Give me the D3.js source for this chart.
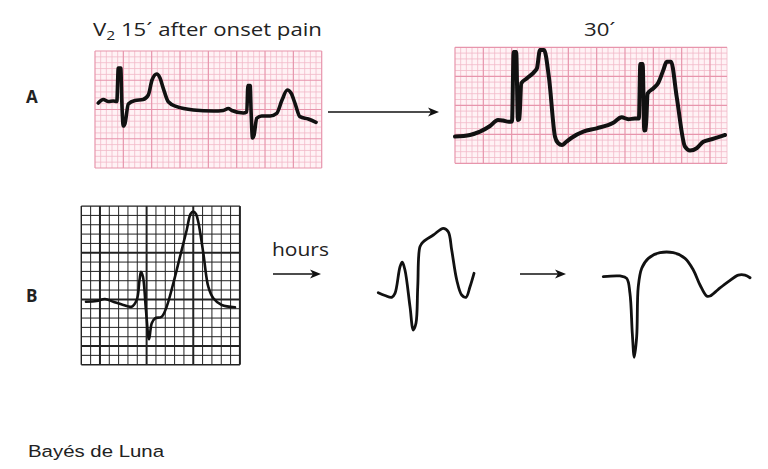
<!DOCTYPE html>
<html><head><meta charset="utf-8">
<script src="https://cdnjs.cloudflare.com/ajax/libs/d3/7.8.5/d3.min.js"></script>
<style>body{margin:0;background:#fff;} svg{display:block;}</style>
</head><body>
<svg id="chart" width="768" height="469"></svg>
<script>
// ---- data (small squares / mm units; x from panel left, y up from panel bottom) ----
const titleLeft = "V";
const titleSub = "2";
const titleRest = " 15´ after onset pain";
const titleRight = "30´";
const rowLabels = ["A", "B"];
const arrowLabel = "hours";
const sourceText = "Bayés de Luna";

const traceA1 = [[0.58,11.1],[1.46,11.7],[2.35,11.37],[3.23,11.45],[3.85,11.37],[4.11,17.09],[4.55,17.09],[4.73,11.4],[4.99,7.18],[5.29,7.6],[5.88,10.94],[7.06,11.54],[8.47,11.71],[9.41,12.48],[10.06,15.04],[10.89,16.07],[11.47,15.38],[12.05,13.62],[12.93,11.33],[14.42,10.48],[17.35,9.91],[20.88,9.74],[22.64,9.83],[23.52,10.17],[24.17,9.83],[26.17,9.4],[26.78,9.57],[26.98,14.1],[27.38,14.1],[27.55,9.4],[27.79,5.13],[28.06,5.6],[28.53,8.5],[29.41,8.89],[30.88,8.89],[32.06,9.35],[33.0,11.62],[33.93,13.33],[34.59,12.82],[35.29,11.06],[36.17,8.77],[37.64,8.38],[39.0,7.81]];

const traceA2 = [[0,4.6],[2.65,4.88],[4.41,5.45],[6.18,6.43],[7.59,7.47],[8.47,7.38],[9.53,7.17],[10.06,7.21],[10.35,19.19],[10.8,19.19],[11.1,7.47],[11.35,7.64],[11.7,13.79],[12.71,14.66],[14.12,15.91],[14.47,16.43],[15.0,19.53],[15.71,19.53],[16.59,14.71],[17.65,4.59],[18.18,3.5],[18.88,3.16],[19.59,3.67],[20.59,4.41],[22.64,5.45],[25.0,6.03],[27.94,7.0],[29.41,7.93],[30.58,7.59],[31.76,7.72],[32.45,7.72],[32.7,17.12],[33.12,17.12],[33.4,5.66],[33.65,5.74],[34.0,12.03],[35.0,12.93],[35.88,13.9],[36.77,16.09],[37.36,17.52],[38.12,17.52],[39.12,11.48],[40.59,2.86],[41.47,2.21],[42.65,2.59],[43.82,3.72],[45.29,4.14],[46.76,4.59],[47.65,4.88]];

const traceB1 = [[0.5,6.75],[1.65,6.83],[2.54,7.04],[3.43,6.75],[4.5,6.4],[5.4,6.22],[5.94,6.93],[6.24,9.08],[6.4,9.97],[6.61,9.43],[6.93,5.86],[7.26,2.72],[7.55,4.44],[7.9,4.97],[8.62,5.14],[9.15,6.22],[9.86,8.72],[10.58,11.58],[11.3,14.44],[11.71,16.15],[12.0,16.42],[12.29,16.15],[12.54,15.29],[13.08,11.94],[13.61,8.36],[14.15,7.12],[15.05,6.4],[16.47,6.15]];

const traceB2 = [[0.03,7.72],[0.75,7.42],[1.47,7.22],[1.82,7.65],[2.36,10.5],[2.6,10.98],[2.89,10.15],[3.43,6.22],[3.78,3.72],[4.07,4.44],[4.26,8.36],[4.5,12.65],[4.86,13.18],[5.93,13.9],[7.0,14.62],[7.53,14.26],[7.9,12.29],[8.44,9.08],[8.97,7.47],[9.43,7.22],[9.86,8.36],[10.29,9.8]];

const traceB3 = [[0.03,9.43],[1.82,9.51],[2.54,9.26],[2.89,7.65],[3.14,3.37],[3.35,0.79],[3.61,3.0],[3.78,8.36],[4.15,10.33],[4.86,11.4],[6.11,12.0],[7.53,12.0],[8.79,11.4],[9.68,10.15],[10.4,8.54],[11.11,7.36],[11.47,7.36],[12.36,8.08],[13.43,8.9],[14.5,9.61],[15.22,9.61],[15.76,9.32]];

// ---- layout ----
const svg = d3.select("#chart");
const fontHuman = "'Open Sans','Noto Sans',sans-serif";
const stretch = 1.2;

function pinkGrid(g, x, y, cols, rows) {
  g.append("rect").attr("x", x(0)).attr("y", y(rows)).attr("width", x(cols)-x(0)).attr("height", y(0)-y(rows)).attr("fill", "#fff2f5");
  const minor = g.append("g").attr("stroke", "#f1b9c8").attr("stroke-width", 0.8);
  const major = g.append("g").attr("stroke", "#e795ac").attr("stroke-width", 1.2);
  d3.range(0, cols + 1).forEach(i => {
    (i % 5 === 0 ? major : minor).append("line").attr("x1", x(i)).attr("x2", x(i)).attr("y1", y(0)).attr("y2", y(rows));
  });
  d3.range(0, rows + 1).forEach(j => {
    (j % 5 === 0 ? major : minor).append("line").attr("y1", y(j)).attr("y2", y(j)).attr("x1", x(0)).attr("x2", x(cols));
  });
}

// Panel A1
const xA1 = d3.scaleLinear().domain([0, 40]).range([95, 321.7]);
const yA1 = d3.scaleLinear().domain([0, 20]).range([168, 51]);
const gA1 = svg.append("g");
pinkGrid(gA1, xA1, yA1, 40, 20);
gA1.append("path").datum(traceA1)
  .attr("d", d3.line().x(d => xA1(d[0])).y(d => yA1(d[1])).curve(d3.curveMonotoneX))
  .attr("fill", "none").attr("stroke", "#111").attr("stroke-width", 3.6).attr("stroke-linejoin", "round").attr("stroke-linecap", "round");

// Panel A2
const xA2 = d3.scaleLinear().domain([0, 48]).range([455, 727]);
const yA2 = d3.scaleLinear().domain([0, 20]).range([163.3, 47.3]);
const gA2 = svg.append("g");
pinkGrid(gA2, xA2, yA2, 48, 20);
gA2.append("path").datum(traceA2)
  .attr("d", d3.line().x(d => xA2(d[0])).y(d => yA2(d[1])).curve(d3.curveMonotoneX))
  .attr("fill", "none").attr("stroke", "#111").attr("stroke-width", 4).attr("stroke-linejoin", "round").attr("stroke-linecap", "round");

// Panel B1 (black grid)
const cellB = 9.33;
const yB = d3.scaleLinear().domain([0, 17]).range([364.7, 364.7 - 17 * cellB]);
const xB1 = d3.scaleLinear().domain([0, 17]).range([81.3, 81.3 + 17 * cellB]);
const gB1 = svg.append("g");
d3.range(0, 18).forEach(i => {
  const thick = (i % 5 === 2);
  gB1.append("line").attr("x1", xB1(i)).attr("x2", xB1(i)).attr("y1", yB(0)).attr("y2", yB(17))
    .attr("stroke", "#222").attr("stroke-width", thick ? 2 : (i === 0 ? 1.4 : 1));
});
d3.range(0, 18).forEach(j => {
  const thick = ((17 - j) % 5 === 0 && j !== 17);
  gB1.append("line").attr("y1", yB(j)).attr("y2", yB(j)).attr("x1", xB1(0)).attr("x2", xB1(17))
    .attr("stroke", "#222").attr("stroke-width", thick ? 2 : ((j === 0 || j === 17) ? 1.4 : 1));
});
gB1.append("path").datum(traceB1)
  .attr("d", d3.line().x(d => xB1(d[0])).y(d => yB(d[1])).curve(d3.curveCatmullRom.alpha(0.5)))
  .attr("fill", "none").attr("stroke", "#111").attr("stroke-width", 2.6).attr("stroke-linejoin", "round").attr("stroke-linecap", "round");

// Panel B2, B3 (no grid)
const xB2 = d3.scaleLinear().domain([0, 1]).range([378, 378 + cellB]);
const xB3 = d3.scaleLinear().domain([0, 1]).range([603, 603 + cellB]);
[[traceB2, xB2], [traceB3, xB3]].forEach(([tr, xs]) => {
  svg.append("path").datum(tr)
    .attr("d", d3.line().x(d => xs(d[0])).y(d => yB(d[1])).curve(d3.curveCatmullRom.alpha(0.5)))
    .attr("fill", "none").attr("stroke", "#111").attr("stroke-width", 2.8).attr("stroke-linejoin", "round").attr("stroke-linecap", "round");
});

// Arrows
function arrow(x1, x2, y, sw) {
  svg.append("line").attr("x1", x1).attr("x2", x2 - 8).attr("y1", y).attr("y2", y).attr("stroke", "#111").attr("stroke-width", sw);
  svg.append("path").attr("d", `M${x2},${y} L${x2 - 11},${y - 4.5} L${x2 - 8},${y} L${x2 - 11},${y + 4.5} Z`).attr("fill", "#111");
}
arrow(328, 439, 112, 1.6);
arrow(273, 321, 274, 1.6);
arrow(520, 566, 274, 1.6);

// Texts (source image is horizontally stretched)
function label(x, y, size, family, weight) {
  return svg.append("text").attr("transform", `translate(${x},${y}) scale(${stretch},1)`)
    .attr("font-family", family).attr("font-size", size).attr("font-weight", weight || "normal").attr("fill", "#222");
}
const t = label(93, 36, 18.5, fontHuman);
t.append("tspan").text(titleLeft);
t.append("tspan").attr("font-size", 13).attr("dy", 4).text(titleSub);
t.append("tspan").attr("dy", -4).text(titleRest);
label(584, 36, 18.5, fontHuman).text(titleRight);
svg.append("text").attr("x", 26).attr("y", 103).attr("font-family", fontHuman).attr("font-weight", "bold").attr("font-size", 17).attr("fill", "#222").text(rowLabels[0]);
svg.append("text").attr("x", 26).attr("y", 302).attr("font-family", fontHuman).attr("font-weight", "bold").attr("font-size", 17).attr("fill", "#222").text(rowLabels[1]);
label(272, 256, 17.5, fontHuman).text(arrowLabel);
label(28, 457, 17, "'Liberation Sans',Arial,sans-serif").text(sourceText);
</script>
</body></html>
